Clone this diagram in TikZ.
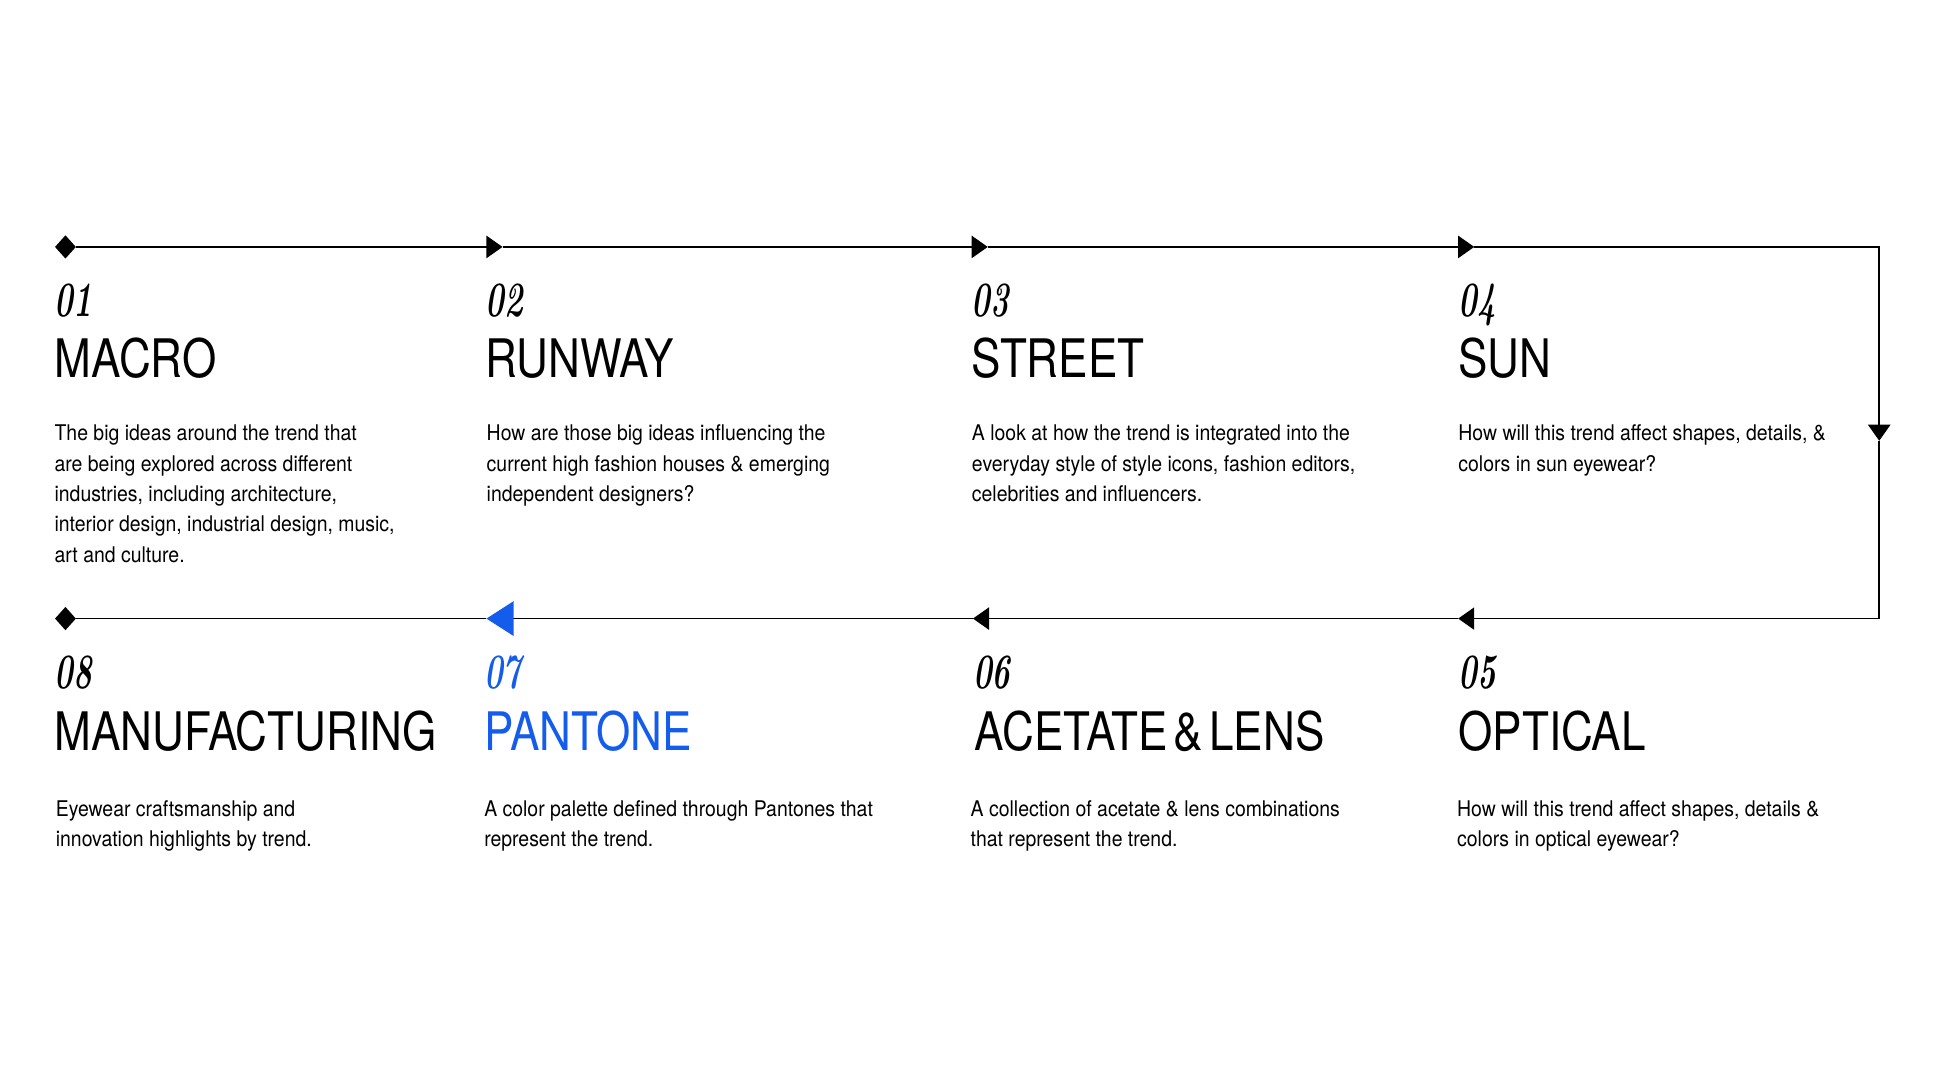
\documentclass[tikz,border=0pt]{standalone}
\usepackage{fontspec}
\usetikzlibrary{arrows.meta,shapes.geometric}
\newfontfamily\titlefont[FakeStretch=0.83]{TeX Gyre Heros}
\newfontfamily\bodyfont[FakeStretch=0.9]{TeX Gyre Heros}
\newfontface\numfont[FakeStretch=0.64]{lmroman10-bolditalic.otf}
\definecolor{pblue}{RGB}{20,92,236}
\tikzset{
  numstyle/.style={anchor=base west, inner sep=0pt, font=\numfont\fontsize{40}{40}\selectfont},
  titlestyle/.style={anchor=base west, inner sep=0pt, font=\titlefont\fontsize{43}{43}\selectfont},
  bodystyle/.style={anchor=north west, inner sep=0pt, align=left, font=\bodyfont\fontsize{17.5}{24.6}\selectfont},
  flow/.style={line width=1.2pt, black},
  tipR/.style={-{Triangle[length=13pt,width=18pt]}},
  tipBlue/.style={-{Triangle[length=22pt,width=28pt,color=pblue]}},
  enddiamond/.style={diamond, fill=black, draw=none, inner sep=0pt, minimum width=17pt, minimum height=19pt}
}
\begin{document}
\begin{tikzpicture}[x=1pt,y=-1pt]
\fill[white] (0,0) rectangle (1568,882);
\useasboundingbox (0,0) rectangle (1568,882);

% markers
\node[enddiamond] (s) at (53,200) {};
\coordinate (a2) at (407,200);
\coordinate (a3) at (800,200);
\coordinate (a4) at (1194,200);
\coordinate (c1) at (1522,200);
\coordinate (a5) at (1522,357);
\coordinate (c2) at (1522,501);
\coordinate (a6) at (1181,501);
\coordinate (a7) at (788,501);
\coordinate (a8) at (394,501);
\node[enddiamond] (e) at (53,501) {};

% connectors
\draw[flow,tipR] (s) -- (a2);
\draw[flow,tipR] (a2) -- (a3);
\draw[flow,tipR] (a3) -- (a4);
\draw[flow,tipR] (a4) -- (c1) -- (a5);
\draw[flow,tipR] (a5) -- (c2) -- (a6);
\draw[flow,tipR] (a6) -- (a7);
\draw[flow,tipBlue] (a7) -- (a8);
\draw[flow] (a8) -- (e);

% top row
\node[numstyle] (n1) at (44,256) {01};
\node[titlestyle] (t1) at (44,306) {MACRO};
\node[bodystyle] (b1) at (44,344) {The big ideas around the trend that\\are being explored across different\\industries, including architecture,\\interior design, industrial design, music,\\art and culture.};

\node[numstyle] (n2) at (393,256) {02};
\node[titlestyle] (t2) at (393,306) {RUNWAY};
\node[bodystyle] (b2) at (394,344) {How are those big ideas influencing the\\current high fashion houses \& emerging\\independent designers?};

\node[numstyle] (n3) at (787,256) {03};
\node[titlestyle] (t3) at (787,306) {STREET};
\node[bodystyle] (b3) at (787,344) {A look at how the trend is integrated into the\\everyday style of style icons, fashion editors,\\celebrities and influencers.};

\node[numstyle] (n4) at (1181,256) {04};
\node[titlestyle] (t4) at (1181,306) {SUN};
\node[bodystyle] (b4) at (1181,344) {How will this trend affect shapes, details, \&\\colors in sun eyewear?};

% bottom row
\node[numstyle] (n8) at (44,558) {08};
\node[titlestyle] (t8) at (44,608) {MANUFACTURING};
\node[bodystyle] (b8) at (45,648) {Eyewear craftsmanship and\\innovation highlights by trend.};

\node[numstyle,text=pblue] (n7) at (392,558) {07};
\node[titlestyle,text=pblue] (t7) at (392,608) {PANTONE};
\node[bodystyle] (b7) at (392,648) {A color palette defined through Pantones that\\represent the trend.};

\node[numstyle] (n6) at (788,558) {06};
\node[titlestyle] (t6) at (789,608) {ACETATE\kern5pt\&\kern5pt LENS};
\node[bodystyle] (b6) at (786,648) {A collection of acetate \& lens combinations\\that represent the trend.};

\node[numstyle] (n5) at (1181,558) {05};
\node[titlestyle] (t5) at (1181,608) {OPTICAL};
\node[bodystyle] (b5) at (1180,648) {How will this trend affect shapes, details \&\\colors in optical eyewear?};
\end{tikzpicture}
\end{document}
